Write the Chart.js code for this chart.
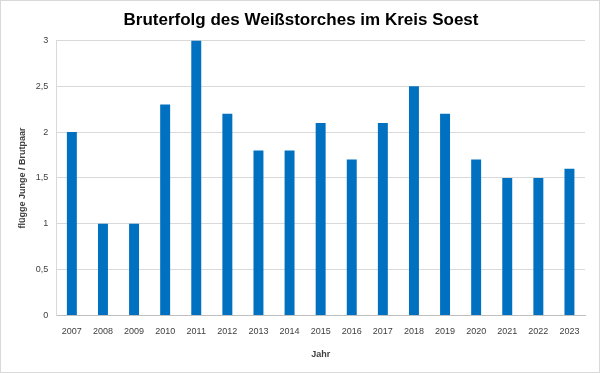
<!DOCTYPE html>
<html>
<head>
<meta charset="utf-8">
<script src="https://cdn.jsdelivr.net/npm/chart.js@4/dist/chart.umd.min.js"></script>
<style>
  html, body { margin: 0; padding: 0; background: #fff; }
  #wrap { width: 598px; height: 371px; border: 1px solid #d9d9d9; }
</style>
</head>
<body>
<div id="wrap"><canvas id="grafico" width="598" height="371"></canvas></div>
<script>
const jahre = ['2007', '2008', '2009', '2010', '2011', '2012', '2013', '2014', '2015',
               '2016', '2017', '2018', '2019', '2020', '2021', '2022', '2023'];
const bruterfolg = [2, 1, 1, 2.3, 3, 2.2, 1.8, 1.8, 2.1, 1.7, 2.1, 2.5, 2.2, 1.7, 1.5, 1.5, 1.6];
const yTicks = [0, 0.5, 1, 1.5, 2, 2.5, 3];

document.addEventListener('DOMContentLoaded', function() {
    const ctx = document.getElementById('grafico').getContext('2d');

    new Chart(ctx, {
        type: 'bar',
        data: {
            labels: jahre,
            datasets: [{
                data: bruterfolg,
                backgroundColor: '#0070c0',
                barPercentage: 0.32,
                categoryPercentage: 1
            }]
        },
        options: {
            responsive: false,
            animation: false,
            layout: { padding: { left: 16, right: 14, top: 0, bottom: 8 } },
            plugins: {
                legend: { display: false },
                tooltip: { enabled: false },
                title: {
                    display: true,
                    text: 'Bruterfolg des Weißstorches im Kreis Soest',
                    color: '#000',
                    font: { family: 'Liberation Sans', size: 17, weight: 'bold' },
                    padding: { top: 9, bottom: 10 }
                }
            },
            scales: {
                x: {
                    grid: { display: false, drawTicks: false },
                    border: { color: '#bfbfbf' },
                    ticks: { color: '#404040', font: { family: 'Liberation Sans', size: 9 }, maxRotation: 0, padding: 11 },
                    title: {
                        display: true, text: 'Jahr', color: '#404040',
                        font: { family: 'Liberation Sans', size: 9, weight: 'bold' },
                        padding: { top: 1 }
                    }
                },
                y: {
                    min: 0, max: 3,
                    afterBuildTicks: axis => { axis.ticks = yTicks.map(v => ({ value: v })); },
                    grid: { color: '#d9d9d9', drawTicks: false },
                    border: { color: '#d9d9d9' },
                    ticks: {
                        color: '#404040', font: { family: 'Liberation Sans', size: 9 }, padding: 8,
                        callback: v => String(v).replace('.', ',')
                    },
                    title: {
                        display: true, text: 'flügge Junge / Brutpaar', color: '#404040',
                        font: { family: 'Liberation Sans', size: 9, weight: 'bold' },
                        padding: { top: 0, bottom: 0 }
                    }
                }
            }
        }
    });
});
</script>
</body>
</html>
